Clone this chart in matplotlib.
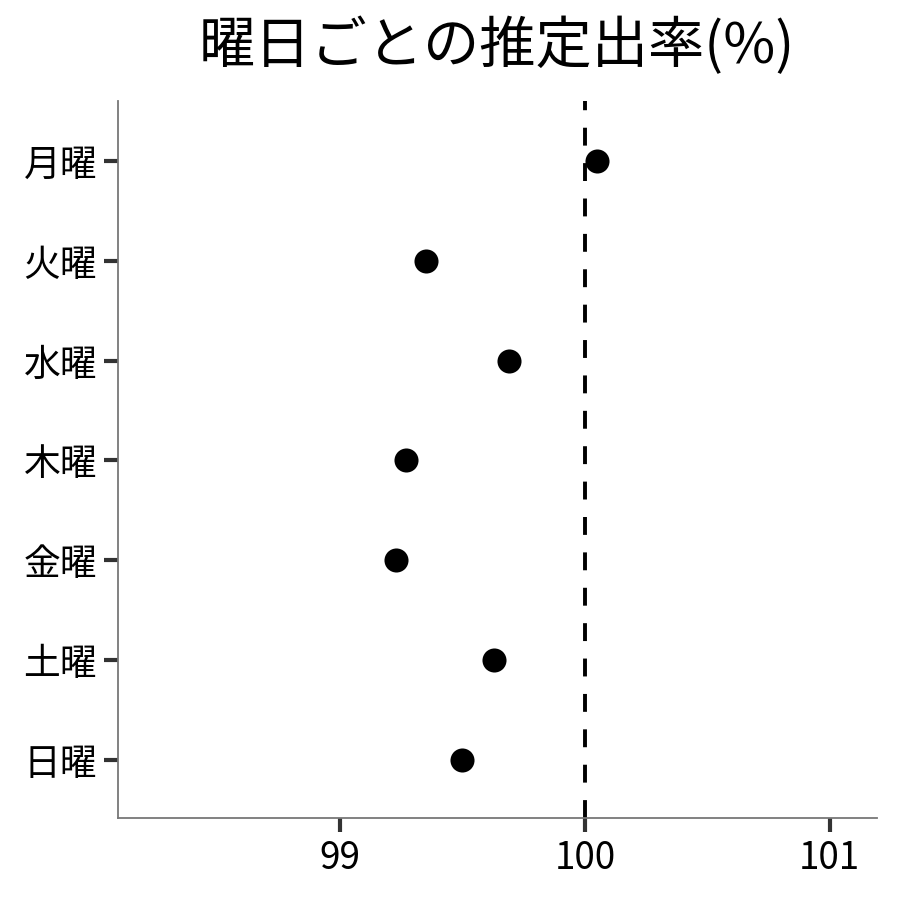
import matplotlib
matplotlib.use('Agg')
import matplotlib.pyplot as plt

plt.rcParams['font.family'] = ['Noto Sans CJK JP', 'DejaVu Sans']

days = ['月曜', '火曜', '水曜', '木曜', '金曜', '土曜', '日曜']
rates = [100.05, 99.35, 99.69, 99.27, 99.23, 99.63, 99.50]
xticks = [99, 100, 101]

fig = plt.figure(figsize=(9, 9), dpi=100)
ax = fig.add_axes([0.131, 0.091, 0.843, 0.797])

ypos = list(range(len(days)))
ax.axvline(100, color='black', linestyle=(0, (4.6, 4.5)), linewidth=2.8, zorder=1)
ax.scatter(rates, ypos, s=300, color='black', zorder=3, linewidths=0)

ax.set_yticks(ypos)
ax.set_yticklabels(days)
ax.set_ylim(len(days) - 1 + 0.58, -0.6)
ax.set_xticks(xticks)
ax.set_xticklabels([str(t) for t in xticks])
ax.set_xlim(98.092, 101.192)

for s in ['top', 'right']:
    ax.spines[s].set_visible(False)
for s in ['left', 'bottom']:
    ax.spines[s].set_color('#777777')
    ax.spines[s].set_linewidth(1.3)
ax.tick_params(axis='both', length=10, width=3, color='#333333',
               labelsize=26.5, labelcolor='black', pad=5)

ax.set_title('曜日ごとの推定出率(%)', fontsize=40.5, pad=27)

fig.savefig('out.png', dpi=100)
